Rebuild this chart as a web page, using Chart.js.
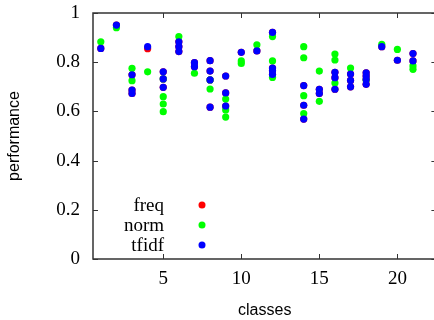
<!DOCTYPE html>
<html>
<head>
<meta charset="utf-8">
<script src="https://cdn.jsdelivr.net/npm/chart.js@4.4.1/dist/chart.umd.min.js"></script>
<style>
html,body{margin:0;padding:0;background:#fff;overflow:hidden;width:434px;height:320px;}
#wrap{width:440px;height:320px;position:relative;}
canvas{display:block;}
</style>
</head>
<body>
<div id="wrap"><canvas id="c" width="440" height="320"></canvas></div>
<script>
// ---- data ----
const classes = [1,2,3,4,5,6,7,8,9,10,11,12,13,14,15,16,17,18,19,20,21];
const seriesNames = ['freq','norm','tfidf'];
const seriesColors = ['#ff0000','#00ff00','#0000ff'];
const normValues = [
  [0.883],[0.940],[0.775,0.725],[0.761],[0.732,0.660,0.630,0.599],
  [0.904],[0.755],[0.728,0.691],[0.650,0.606,0.577],[0.805,0.795],
  [0.871],[0.904,0.805,0.738],[],[0.863,0.818,0.664,0.591],[0.764,0.641],
  [0.833,0.809,0.715],[0.776],[0.728],[0.873],[0.852],[0.785,0.771]
];
const tfidfValues = [
  [0.856],[0.951],[0.749,0.687,0.673],[0.863],[0.761,0.732,0.698],
  [0.883,0.863,0.843],[0.798,0.782],[0.806,0.764,0.728,0.617],[0.744,0.675,0.622],[0.840],
  [0.846],[0.921,0.776,0.765,0.750],[],[0.705,0.625,0.569],[0.690,0.673],
  [0.759,0.737,0.690],[0.752,0.726,0.700],[0.757,0.744,0.730,0.710],[0.863],[0.808],[0.835,0.805]
];
const freqValues = [
  [0.856],[0.951],[0.749,0.687,0.673],[0.855],[0.761,0.732,0.698],
  [0.883,0.863,0.843],[0.798,0.782],[0.806,0.764,0.728,0.617],[0.744,0.675,0.622],[0.840],
  [0.846],[0.921,0.776,0.765,0.750],[],[0.705,0.625,0.569],[0.690,0.673],
  [0.759,0.737,0.690],[0.752,0.726,0.700],[0.757,0.744,0.730,0.710],[0.863],[0.808],[0.835,0.805]
];
const xTicks = [5,10,15,20];
const yTicks = [0,0.2,0.4,0.6,0.8,1];
const xTitle = 'classes';
const yTitle = 'performance';

function toPoints(values){
  const pts = [];
  classes.forEach((c,i)=>values[i].forEach(v=>pts.push({x:c,y:v})));
  return pts;
}
const allValues = [freqValues, normValues, tfidfValues];

const serif = "'Liberation Serif', 'DejaVu Serif', serif";
const sans = "'Liberation Sans', Arial, sans-serif";
const AXIS = '#333333';

const frame = {
  id:'frame',
  afterDraw(chart){
    const {ctx, chartArea:a, scales} = chart;
    ctx.save();
    ctx.strokeStyle = AXIS;
    ctx.lineWidth = 1.5;
    ctx.beginPath();
    ctx.moveTo(chart.width, a.top); ctx.lineTo(a.left, a.top);
    ctx.lineTo(a.left, a.bottom); ctx.lineTo(chart.width, a.bottom);
    ctx.stroke();
    ctx.lineWidth = 1;
    const tl = 5;
    xTicks.forEach(v=>{
      const px = Math.round(scales.x.getPixelForValue(v))+0.5;
      ctx.beginPath();
      ctx.moveTo(px,a.bottom); ctx.lineTo(px,a.bottom-tl);
      ctx.moveTo(px,a.top); ctx.lineTo(px,a.top+tl);
      ctx.stroke();
    });
    yTicks.forEach(v=>{
      const py = Math.round(scales.y.getPixelForValue(v))+0.5;
      ctx.beginPath();
      ctx.moveTo(a.left,py); ctx.lineTo(a.left+tl,py);
      ctx.moveTo(a.right,py); ctx.lineTo(a.right-tl,py);
      ctx.stroke();
    });
    // legend inside plot
    ctx.font = '19px ' + serif;
    ctx.textAlign = 'right';
    ctx.textBaseline = 'middle';
    const textRight = 164, markX = 202;
    const rows = [205, 225, 245];
    chart.data.datasets.slice().sort((p,q)=>p.legendIndex-q.legendIndex).forEach((ds,i)=>{
      ctx.fillStyle = '#000';
      ctx.fillText(ds.label, textRight, rows[i]+1);
      ctx.fillStyle = ds.backgroundColor;
      ctx.beginPath();
      ctx.arc(markX, rows[i], 3.5, 0, Math.PI*2);
      ctx.fill();
    });
    ctx.restore();
  }
};

const hiddenGrid = (len)=>({display:true, drawOnChartArea:false, drawTicks:true, tickLength:len, color:'rgba(0,0,0,0)'});

new Chart(document.getElementById('c'), {
  type:'scatter',
  data:{
    datasets: seriesNames.map((n,i)=>({
      label:n,
      legendIndex:i,
      data:toPoints(allValues[i]),
      backgroundColor:seriesColors[i],
      borderWidth:0,
      pointRadius:3.6,
      pointHoverRadius:3.6,
      order: 2-i
    }))
  },
  options:{
    responsive:false,
    maintainAspectRatio:false,
    animation:false,
    events:[],
    layout:{padding:{top:13,right:3,left:0,bottom:0}},
    plugins:{legend:{display:false},tooltip:{enabled:false}},
    scales:{
      x:{
        type:'linear', min:0.5, max:22.5,
        afterBuildTicks(s){ s.ticks = xTicks.map(v=>({value:v})); },
        afterFit(s){ s.height = 61; s.paddingLeft = 0; s.paddingRight = 0; },
        grid:hiddenGrid(9),
        border:{display:false},
        ticks:{font:{family:serif,size:19},color:'#000',padding:0,maxRotation:0,autoSkip:false},
        title:{display:true,text:xTitle,font:{family:sans,size:16},color:'#000',padding:{top:1,bottom:0}}
      },
      y:{
        type:'linear', min:0, max:1,
        afterBuildTicks(s){ s.ticks = yTicks.map(v=>({value:v})); },
        afterFit(s){ s.width = 93; s.paddingTop = 0; s.paddingBottom = 0; },
        grid:hiddenGrid(13),
        border:{display:false},
        ticks:{font:{family:serif,size:19},color:'#000',padding:0,autoSkip:false,
          callback:(v)=> (v===0||v===1) ? String(v) : v.toFixed(1)},
        title:{display:true,text:yTitle,font:{family:sans,size:16},color:'#000',padding:{top:5,bottom:0}}
      }
    }
  },
  plugins:[frame]
});
</script>
</body>
</html>
